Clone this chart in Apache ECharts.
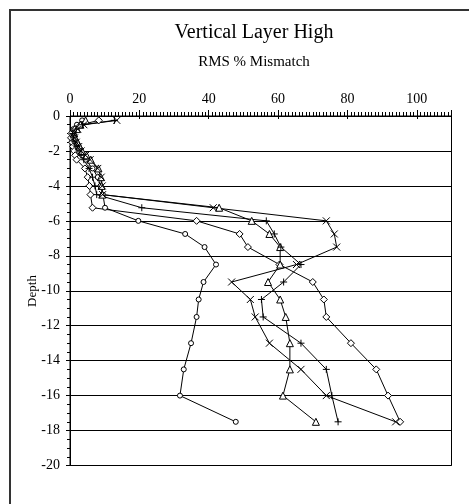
<!DOCTYPE html>
<html>
<head>
<meta charset="utf-8">
<script src="https://cdn.jsdelivr.net/npm/echarts@6/dist/echarts.min.js"></script>
<style>
  html, body { margin: 0; padding: 0; background: #fff; }
  #chart { width: 469px; height: 504px; }
</style>
</head>
<body>
<div id="chart"></div>
<script>
// Depth levels (m) shared by every profile
const depths = [-0.25, -0.5, -0.75, -1, -1.25, -1.5, -1.75, -2, -2.25, -2.5, -3, -3.5, -4, -4.5,
  -5.25, -6, -6.75, -7.5, -8.5, -9.5, -10.5, -11.5, -13, -14.5, -16, -17.5];

// RMS % mismatch per profile, one value per depth level
const circleVals = [3.5, 2.0, 1.0, 0.5, 0.8, 1.2, 1.8, 2.5, 3.5, 4.5, 6.5, 8.0, 8.8, 9.5,
  10.1, 19.7, 33.2, 38.8, 42.1, 38.5, 37.1, 36.5, 34.9, 32.8, 31.7, 47.8];
const diamondVals = [8.3, 3.2, 1.5, 0.4, 0.3, 0.6, 0.9, 1.2, 1.5, 1.9, 4.3, 5.1, 5.6, 5.9,
  6.5, 36.5, 48.9, 51.3, 60.4, 70.0, 73.2, 73.9, 81.0, 88.3, 91.7, 95.2];
const triangleVals = [4.5, 3.0, 2.0, 1.2, 1.5, 2.2, 2.8, 3.5, 4.8, 6.0, 8.2, 8.9, 9.1, 9.3,
  43.0, 52.4, 57.5, 60.6, 60.6, 57.1, 60.6, 62.2, 63.4, 63.4, 61.4, 70.9];
const crossVals = [13.5, 4.0, 2.2, 1.0, 1.3, 1.8, 2.5, 3.2, 4.5, 5.8, 8.0, 9.0, 9.3, 9.4,
  41.3, 73.9, 76.2, 76.9, 65.3, 46.6, 52.0, 53.4, 57.5, 66.6, 73.9, 93.9];
const plusVals = [12.8, 3.6, 1.8, 0.8, 1.0, 1.5, 2.0, 2.6, 3.2, 4.0, 5.5, 6.5, 7.2, 7.7,
  20.7, 56.6, 58.9, 60.8, 66.6, 61.6, 55.2, 55.7, 66.6, 73.9, 75.5, 77.3];

const xTicks = [0, 20, 40, 60, 80, 100];

const FONT = '"Liberation Serif", "Times New Roman", serif';

function profile(vals, symbol, size) {
  return {
    type: 'line',
    data: vals.map((v, i) => [v, depths[i]]),
    symbol: symbol,
    symbolSize: size,
    showAllSymbol: true,
    lineStyle: { color: '#000', width: 1 },
    itemStyle: {
      color: symbol.startsWith('path://') ? 'rgba(0,0,0,0)' : '#fff',
      borderColor: '#000',
      borderWidth: 1
    },
    emphasis: { disabled: true },
    z: 3
  };
}

const chart = echarts.init(document.getElementById('chart'), null, { renderer: 'canvas' });

chart.setOption({
  animation: false,
  backgroundColor: '#fff',
  graphic: [
    {
      type: 'rect',
      shape: { x: 10, y: 10, width: 490, height: 520 },
      style: { fill: 'none', stroke: '#333', lineWidth: 2 },
      silent: true
    },
    {
      type: 'text', x: 254, y: 33,
      style: { text: 'Vertical Layer High', fontFamily: FONT, fontSize: 20, fill: '#000',
        align: 'center', verticalAlign: 'middle' }
    },
    {
      type: 'text', x: 254, y: 62,
      style: { text: 'RMS % Mismatch', fontFamily: FONT, fontSize: 15, fill: '#000',
        align: 'center', verticalAlign: 'middle' }
    },
    {
      // vertical axis title
      type: 'text', x: 33, y: 291, rotation: Math.PI / 2,
      style: { text: 'Depth', fontFamily: FONT, fontSize: 13, fill: '#000',
        align: 'center', verticalAlign: 'middle' }
    }
  ],
  grid: {
    left: 70, right: 17.5, top: 116, bottom: 38.5,
    show: true, borderColor: '#000', borderWidth: 1, backgroundColor: 'transparent'
  },
  xAxis: [
    {
      type: 'value', position: 'top', min: 0, max: 110, interval: 20,
      axisLine: { show: true, lineStyle: { color: '#000', width: 1 } },
      axisTick: { show: true, inside: false, length: 6, lineStyle: { color: '#000' } },
      minorTick: { show: true, splitNumber: 20, length: 4, lineStyle: { color: '#000' } },
      splitLine: { show: false },
      axisLabel: {
        color: '#000', fontFamily: FONT, fontSize: 14, margin: 10,
        formatter: v => (xTicks.indexOf(v) >= 0 ? String(v) : '')
      }
    },
    {
      type: 'value', position: 'top', min: 0, max: 110, interval: 20,
      axisLine: { show: false },
      axisTick: { show: true, inside: true, length: 3, lineStyle: { color: '#000' } },
      minorTick: { show: false },
      splitLine: { show: false },
      axisLabel: { show: false }
    }
  ],
  yAxis: [
    {
      type: 'value', position: 'left', min: -20, max: 0, interval: 2,
      axisLine: { show: true, lineStyle: { color: '#000', width: 1 } },
      axisTick: { show: true, inside: false, length: 4, lineStyle: { color: '#000' } },
      minorTick: { show: true, splitNumber: 4, length: 3, lineStyle: { color: '#000' } },
      splitLine: { show: true, lineStyle: { color: '#000', width: 1 } },
      axisLabel: { color: '#000', fontFamily: FONT, fontSize: 14, margin: 10 }
    },
    {
      type: 'value', position: 'left', min: -20, max: 0, interval: 2,
      axisLine: { show: false },
      axisTick: { show: true, inside: true, length: 3, lineStyle: { color: '#000' } },
      minorTick: { show: false },
      splitLine: { show: false },
      axisLabel: { show: false }
    }
  ],
  series: [
    profile(circleVals, 'circle', 5),
    profile(diamondVals, 'diamond', 7),
    profile(triangleVals, 'triangle', 7),
    profile(crossVals, 'path://M0,0L10,10M0,10L10,0', 7),
    profile(plusVals, 'path://M5,0L5,10M0,5L10,5', 7)
  ]
});
</script>
</body>
</html>
